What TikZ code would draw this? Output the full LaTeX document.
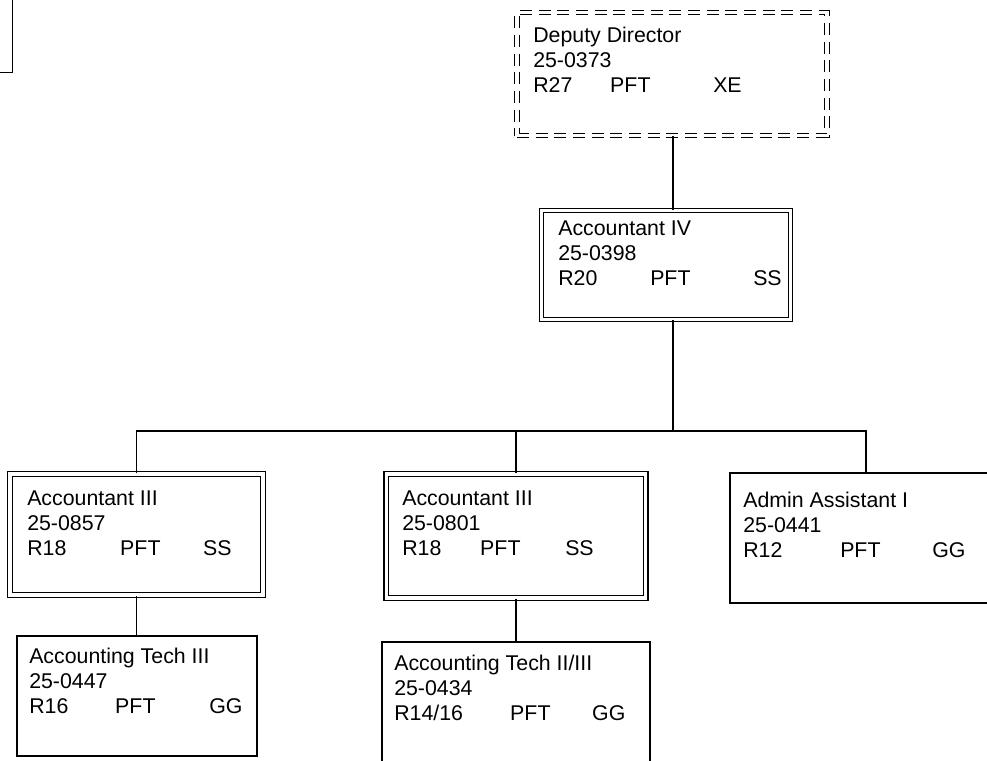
\documentclass[tikz,border=0pt]{standalone}
\usepackage{fontspec}
\setmainfont{Liberation Sans}
\newdimen\pxu \pxu=0.75pt
% three lines of a position: title, number, grade / status / code
\newcommand\postlines[7]{\vtop{\baselineskip=18.75pt
  \hbox{#1}\hbox{#2}\hbox{\makebox[#4\pxu][l]{#3}\makebox[#6\pxu][l]{#5}#7}}}

\begin{document}
\begin{tikzpicture}[x=0.75pt, y=-0.75pt,
    post/.style 2 args={draw, line width=1.1pt, inner sep=0pt,
      minimum width=#1*0.75pt, minimum height=#2*0.75pt},
    twin/.style={double, double distance=2.3pt, line width=0.95pt},
    acting/.style={dash pattern=on 9pt off 5pt},
    txt/.style={anchor=base west, inner sep=0pt,
      font=\fontsize{16pt}{18.75pt}\selectfont},
    link/.style={line width=0.9pt}]
  \useasboundingbox (0,0) rectangle (987,760);

  \node[post={80}{100}, anchor=south east] (pg) at (13,73) {};

  \node[post={310}{123}, twin, acting] (dd) at (672,74) {};
  \node[txt] (dd-txt) at (533,42.5) {\postlines{Deputy Director}{25-0373}{R27}{77}{PFT}{103}{XE}};

  \node[post={249}{109}, twin] (a4) at (666,265) {};
  \node[txt] (a4-txt) at (558,235) {\postlines{Accountant IV}{25-0398}{R20}{92}{PFT}{103}{SS}};

  \node[post={253}{121}, twin] (a3l) at (136.5,534.5) {};
  \node[txt] (a3l-txt) at (27,505) {\postlines{Accountant III}{25-0857}{R18}{93}{PFT}{83}{SS}};

  \node[post={259.5}{124}, twin] (a3m) at (516,536) {};
  \node[txt] (a3m-txt) at (402,505.5) {\postlines{Accountant III}{25-0801}{R18}{78}{PFT}{85}{SS}};

  \node[post={272}{130}] (aa) at (866,538) {};
  \node[txt] (aa-txt) at (743,507) {\postlines{Admin Assistant I}{25-0441}{R12}{97}{PFT}{92}{GG}};

  \node[post={240}{120}] (t3) at (137,696) {};
  \node[txt] (t3-txt) at (29,663) {\postlines{Accounting Tech III}{25-0447}{R16}{86}{PFT}{94}{GG}};

  \node[post={268}{120}] (t23) at (516,702) {};
  \node[txt] (t23-txt) at (394,670) {\postlines{Accounting Tech II/III}{25-0434}{R14/16}{116}{PFT}{82}{GG}};

  % connectors
  \coordinate (bus) at (673,431);
  \draw[link] (dd.south -| bus) -- (a4.north -| bus);
  \draw[link] (a4.south -| bus) -- (bus);
  \draw[link] (a3l.north) |- (aa.north |- bus) -- (aa.north);
  \draw[link] (a3m.north) -- (a3m.north |- bus);
  \draw[link] (a3l.south) -- (t3.north -| a3l.south);
  \draw[link] (a3m.south) -- (t23.north);
\end{tikzpicture}
\end{document}
